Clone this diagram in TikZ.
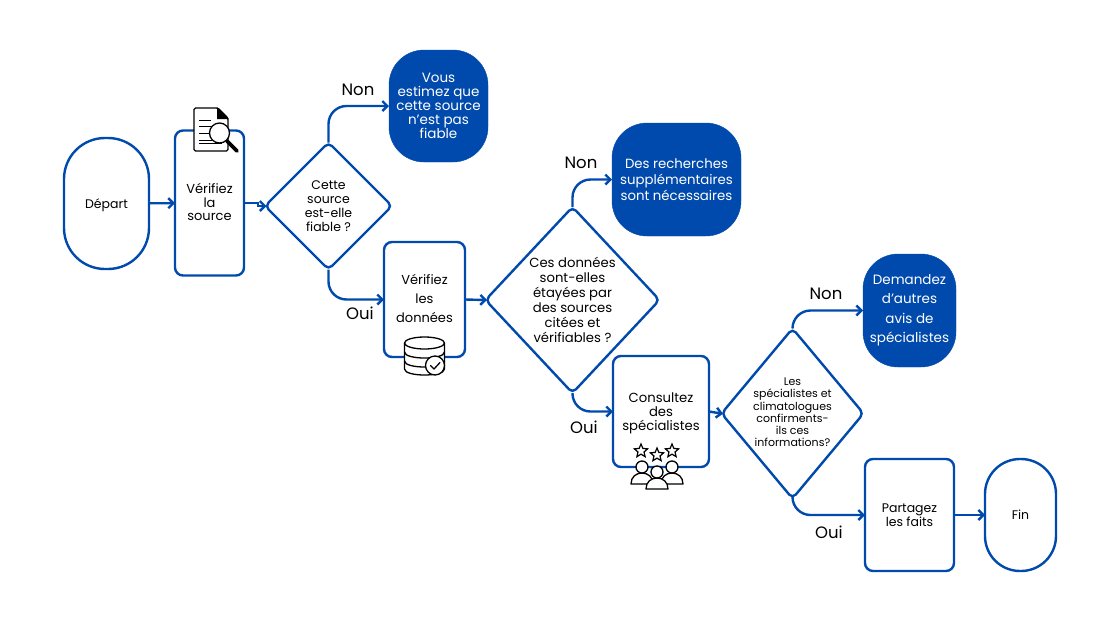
\documentclass[tikz,border=0pt]{standalone}
\usepackage{fontspec}
\setmainfont{Poppins}
\usetikzlibrary{shapes.geometric,arrows.meta}
\definecolor{flow}{HTML}{004AAD}
\tikzset{
  x=1pt,y=-1pt,
  every node/.style={inner sep=0pt,outer sep=0pt,text=black},
  ln/.style={font=\fontsize{#1}{#1}\selectfont},
  boxn/.style={draw=flow,line width=2.4pt,fill=white,rounded corners=8pt,align=center},
  pill/.style={draw=flow,line width=2.4pt,fill=white,rounded corners=35pt,align=center},
  solid box/.style={draw=flow,fill=flow,rounded corners=35pt,align=center,text=white},
  decide/.style={diamond,draw=flow,line width=2.4pt,fill=white,rounded corners=5pt,aspect=1},
  flowline/.style={draw=flow,line width=2.4pt,-{Straight Barb[length=5pt,width=10pt,line width=2.4pt]}},
  branchline/.style={flowline,rounded corners=18pt},
  tointip/.style={shorten >=-1.5pt},
  answer/.style={font=\fontsize{16.5}{16.5}\selectfont},
  icon/.style={draw=black,line width=1.3pt,fill=white,line join=round},
}
\begin{document}
\begin{tikzpicture}
\useasboundingbox (0,0) rectangle (1120,630);
\node[pill,rounded corners=41pt,minimum width=85pt,minimum height=131pt,ln=12.5] (depart) at (106.5,203.5) {\raisebox{-4.5pt}[0pt][0pt]{Départ}};
\node[boxn,minimum width=69pt,minimum height=145pt,font=\fontsize{13}{13.2}\selectfont] (vsource) at (209.5,203) {Vérifiez\\la\\source\rule[-2pt]{0pt}{2pt}};
\node[decide,minimum width=127pt,minimum height=127pt,label={[align=center,font=\fontsize{12.5}{14}\selectfont]center:Cette\\source\\est-elle\\fiable ?}] (d1) at (328.5,206) {};
\node[solid box,minimum width=99pt,minimum height=112pt,font=\fontsize{13.5}{14}\selectfont] (b1) at (438.5,106) {Vous\\estimez que\\cette source\\n’est pas\\fiable};
\node[boxn,minimum width=81pt,minimum height=115pt,font=\fontsize{13}{19}\selectfont] (vdata) at (424.5,299.5) {Vérifiez\\les\\données\rule[-3pt]{0pt}{3pt}};
\node[decide,minimum width=174pt,minimum height=186pt,label={[align=center,font=\fontsize{13.2}{15}\selectfont]center:Ces données\\sont-elles\\étayées par\\des sources\\citées et\\vérifiables ?}] (d2) at (572.5,300) {};
\node[solid box,minimum width=129pt,minimum height=113pt,font=\fontsize{13.3}{16}\selectfont] (b2) at (676.5,179.5) {Des recherches\\supplémentaires\\sont nécessaires};
\node[boxn,minimum width=96pt,minimum height=111pt,font=\fontsize{13.2}{14}\selectfont] (consult) at (661,411.5) {\rule{0pt}{13.5pt}Consultez\\des\\spécialistes};
\node[decide,minimum width=142pt,minimum height=170pt,label={[align=center,yshift=1pt,font=\fontsize{11}{12.2}\selectfont]center:Les\\spécialistes et\\climatologues\\confirments-\\ils ces\\informations?}] (d3) at (792.5,413.5) {};
\node[solid box,minimum width=93pt,minimum height=113pt,font=\fontsize{13.5}{19.5}\selectfont] (b3) at (909.5,310.5) {Demandez\\d’autres\\avis de\\spécialistes};
\node[boxn,minimum width=89pt,minimum height=112pt,font=\fontsize{12.5}{14}\selectfont] (share) at (909.5,515) {Partagez\\les faits};
\node[pill,minimum width=71pt,minimum height=112pt,ln=12.5] (fin) at (1020.5,515) {Fin};

\draw[flowline] (depart) -- (vsource);
\draw[flowline,tointip] (vsource.east) -- ++(14,0) |- (d1.west);
\draw[branchline] (d1.north) |- (b1.west);
\draw[branchline] (d1.south) |- (vdata.west);
\draw[flowline,tointip] (vdata.east) -- (d2.west);
\draw[branchline] (d2.north) |- (b2.west);
\draw[branchline] (d2.south) |- (consult.west);
\draw[flowline,tointip] (consult.east) -- (d3.west);
\draw[branchline] (d3.north) |- (b3.west);
\draw[branchline] (d3.south) |- (share.west);
\draw[flowline] (share) -- (fin);

\node[answer] (non1) at (358,90) {Non};
\node[answer] (oui1) at (360,313) {Oui};
\node[answer] (non2) at (581,163) {Non};
\node[answer] (oui2) at (584,427) {Oui};
\node[answer] (non3) at (826,294) {Non};
\node[answer] (oui3) at (829,532) {Oui};

% document and magnifier icon
\draw[icon,rounded corners=1.5pt] (194,108) -- (218,108) -- (228,118) -- (228,151) -- (194,151) -- cycle;
\fill[black] (217,107) -- (229,119) -- (217,119) -- cycle;
\foreach \yy/\xx in {120/211,126/216,133/216,140/216,143/222}{\draw[black,line width=1pt] (199,\yy) -- (\xx,\yy);}
\draw[black,line width=3.6pt,line cap=round] (227,141) -- (237,151);
\draw[icon] (219.5,133) circle (10);

% database icon
\draw[icon] (404.5,343) -- (404.5,369) .. controls (404.5,377) and (444.5,377) .. (444.5,369) -- (444.5,343);
\draw[icon] (424.5,343) ellipse[x radius=20,y radius=6];
\draw[black,line width=1.3pt] (404.5,352) .. controls (404.5,360) and (444.5,360) .. (444.5,352);
\draw[black,line width=1.3pt] (404.5,361) .. controls (404.5,369) and (444.5,369) .. (444.5,361);
\draw[icon] (435,365.5) circle (9.5);
\draw[black,line width=1.3pt,line cap=round,line join=round] (430.5,365.5) -- (434,369) -- (440,362.5);

% people and stars icon
\foreach \px/\py in {641/451,657/455,672/451}{
  \node[star,star points=5,star point ratio=2.2,draw=black,line width=1.2pt,fill=white,minimum size=14pt] (s\px) at (\px,\py) {};
}
\foreach \px/\py in {642/467,672/467,657/472}{
  \draw[icon] (\px-11,\py+17) .. controls (\px-11,\py+10) and (\px-6,\py+6) .. (\px,\py+6) .. controls (\px+6,\py+6) and (\px+11,\py+10) .. (\px+11,\py+17) -- cycle;
  \draw[icon] (\px,\py) circle (6);
}
\end{tikzpicture}
\end{document}
